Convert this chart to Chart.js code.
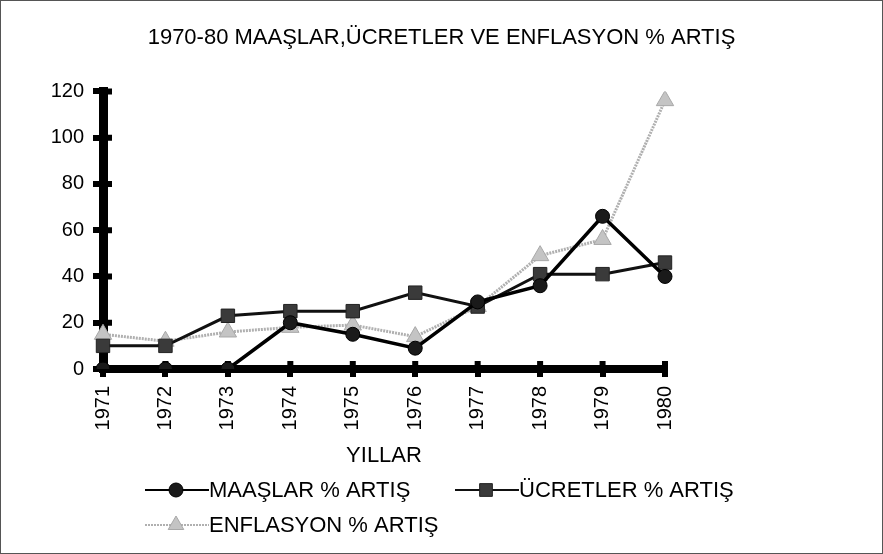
<!DOCTYPE html>
<html>
<head>
<meta charset="utf-8">
<script src="https://cdn.jsdelivr.net/npm/chart.js@4.4.0/dist/chart.umd.min.js"></script>
<style>
  html, body { margin: 0; padding: 0; background: #fff; }
  #kutu { width: 883px; height: 554px; }
</style>
</head>
<body>
<div id="kutu"><canvas id="grafik"></canvas></div>
<script>
// yillar ve seriler
const yillar = ['1971', '1972', '1973', '1974', '1975', '1976', '1977', '1978', '1979', '1980'];
const maaslar = [0, 0, 0, 20, 15, 9, 29, 36, 66, 40];
const ucretler = [10, 10, 23, 25, 25, 33, 27, 41, 41, 46];
const enflasyon = [15, 12, 16, 18, 19, 14, 27, 49, 56, 116];
const yTikler = [0, 20, 40, 60, 80, 100, 120];

const yazi = 'Liberation Sans, Arial, sans-serif';
Chart.defaults.font.family = yazi;
Chart.defaults.color = '#000';

// legend sirasi
const seriAdlari = ['MAAŞLAR % ARTIŞ', 'ÜCRETLER % ARTIŞ', 'ENFLASYON % ARTIŞ'];

const cerceve = {
    id: 'cerceve',
    beforeDraw(chart) {
        const c = chart.ctx;
        c.save();
        c.fillStyle = '#fff';
        c.fillRect(0, 0, chart.width, chart.height);
        c.strokeStyle = '#555';
        c.lineWidth = 1;
        c.strokeRect(0.5, 0.5, chart.width - 1, chart.height - 1);
        c.restore();
    }
};

// eksen tiklerinin ic tarafi
const icTikler = {
    id: 'icTikler',
    beforeDatasetsDraw(chart) {
        const c = chart.ctx;
        const a = chart.chartArea;
        const x = chart.scales.x, y = chart.scales.y;
        c.save();
        c.strokeStyle = '#000';
        c.lineWidth = 6;
        c.beginPath();
        yTikler.forEach(v => {
            const py = y.getPixelForValue(v);
            c.moveTo(a.left, py);
            c.lineTo(a.left + 9, py);
        });
        yillar.forEach((_, i) => {
            const px = x.getPixelForValue(i);
            c.moveTo(px, a.bottom);
            c.lineTo(px, a.bottom - 8);
        });
        c.stroke();
        c.restore();
    }
};

const aciklama = {
    id: 'aciklama',
    afterDraw(chart) {
        const c = chart.ctx;
        const x0 = chart.chartArea.left + 42;
        const y1 = chart.height - 64;
        const y2 = chart.height - 29;
        const yerler = [[x0, y1], [x0 + 310, y1], [x0, y2]];
        c.save();
        c.font = '22px ' + yazi;
        c.textBaseline = 'middle';
        seriAdlari.forEach((ad, i) => {
            const ds = chart.data.datasets.find(d => d.label === ad);
            const [x, y] = yerler[i];
            c.strokeStyle = ds.borderColor;
            c.lineWidth = 2;
            c.setLineDash(ds.borderDash || []);
            c.beginPath();
            c.moveTo(x, y);
            c.lineTo(x + 64, y);
            c.stroke();
            c.setLineDash([]);
            c.fillStyle = ds.pointBackgroundColor;
            c.strokeStyle = ds.pointBorderColor;
            c.lineWidth = 1;
            const r = ds.pointStyle === 'circle' ? 7 : 9;
            Chart.helpers.drawPoint(c, {pointStyle: ds.pointStyle, radius: r, rotation: 0, borderWidth: 1}, x + 31, y);
            c.fillStyle = '#000';
            c.fillText(ad, x + 64, y + 1);
        });
        c.restore();
    }
};

const ctx = document.getElementById('grafik').getContext('2d');
new Chart(ctx, {
    type: 'line',
    data: {
        labels: yillar,
        datasets: [
            {
                label: seriAdlari[2],
                data: enflasyon,
                borderColor: '#b0b0b0',
                borderWidth: 3,
                borderDash: [2, 1],
                pointStyle: 'triangle',
                pointRadius: 10,
                pointBackgroundColor: '#c4c4c4',
                pointBorderColor: '#a8a8a8',
                pointBorderWidth: 1,
                tension: 0,
                order: 3
            },
            {
                label: seriAdlari[1],
                data: ucretler,
                borderColor: '#111',
                borderWidth: 3,
                pointStyle: 'rect',
                pointRadius: 9.5,
                pointBackgroundColor: '#3a3a3a',
                pointBorderColor: '#222',
                pointBorderWidth: 1,
                tension: 0,
                order: 2
            },
            {
                label: seriAdlari[0],
                data: maaslar,
                borderColor: '#000',
                borderWidth: 3.5,
                pointStyle: 'circle',
                pointRadius: 7,
                pointBackgroundColor: '#1a1a1a',
                pointBorderColor: '#000',
                pointBorderWidth: 1,
                tension: 0,
                order: 1
            }
        ]
    },
    options: {
        responsive: true,
        maintainAspectRatio: false,
        animation: false,
        events: [],
        layout: { padding: { left: 0, right: 0, top: 0, bottom: 80 } },
        plugins: {
            legend: { display: false },
            tooltip: { enabled: false },
            title: {
                display: true,
                text: '1970-80 MAAŞLAR,ÜCRETLER VE ENFLASYON % ARTIŞ',
                font: { size: 22, weight: 'normal' },
                color: '#000',
                padding: { top: 25, bottom: 40 }
            }
        },
        scales: {
            x: {
                grid: {
                    display: true,
                    drawOnChartArea: false,
                    drawTicks: true,
                    tickLength: 8,
                    lineWidth: 6,
                    color: '#000'
                },
                border: { display: true, color: '#000', width: 8 },
                ticks: {
                    font: { size: 20 },
                    color: '#000',
                    minRotation: 90,
                    maxRotation: 90,
                    padding: 9
                },
                title: {
                    display: true,
                    text: 'YILLAR',
                    font: { size: 22 },
                    color: '#000',
                    padding: { top: 0, bottom: 5 }
                },
                afterFit(scale) { scale.height = 105; }
            },
            y: {
                min: 0,
                max: 120,
                afterBuildTicks(scale) { scale.ticks = yTikler.map(v => ({ value: v })); },
                grid: {
                    display: true,
                    drawOnChartArea: false,
                    drawTicks: true,
                    tickLength: 10,
                    lineWidth: 6,
                    color: '#000'
                },
                border: { display: true, color: '#000', width: 9 },
                ticks: {
                    font: { size: 20 },
                    color: '#000',
                    padding: 9
                },
                afterFit(scale) { scale.width = 103; }
            },
            // sag taraftaki bos alan
            bos: {
                type: 'linear',
                position: 'right',
                display: true,
                grid: { display: false },
                border: { display: false },
                ticks: { display: false },
                afterFit(scale) { scale.width = 218; }
            }
        }
    },
    plugins: [cerceve, icTikler, aciklama]
});
</script>
</body>
</html>
